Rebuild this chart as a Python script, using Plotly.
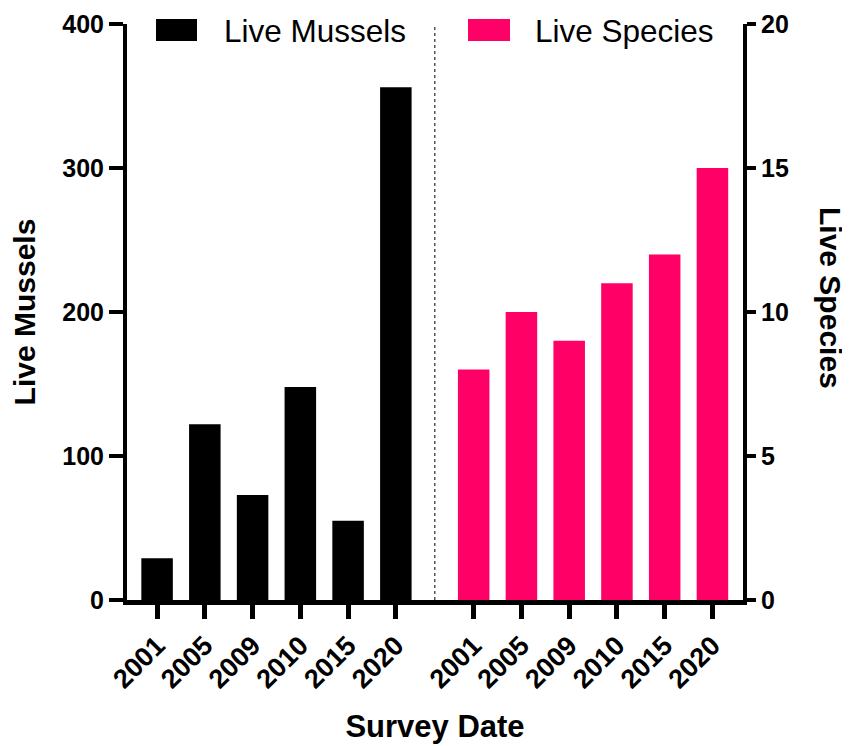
import numpy as np
import plotly.graph_objects as go

# ---- data ----
years = ["2001", "2005", "2009", "2010", "2015", "2020"]
live_mussels = [29, 122, 73, 148, 55, 356]
live_species = [8, 10, 9, 11, 12, 15]

mussel_ticks = [0, 100, 200, 300, 400]
species_ticks = [0, 5, 10, 15, 20]

# category positions (two groups separated by a gap)
group_gap = 1.63
x_mussels = np.arange(len(years))
x_species = np.arange(len(years)) + len(years) - 1 + group_gap
divider_x = (x_mussels[-1] + x_species[0]) / 2

BLACK = "#000000"
PINK = "#FF0066"
FONT = "Liberation Sans, Arial, sans-serif"

fig = go.Figure()
fig.add_trace(go.Bar(x=x_mussels, y=live_mussels, name="Live Mussels",
                     marker=dict(color=BLACK, line=dict(width=0)), width=0.66,
                     yaxis="y", showlegend=False))
fig.add_trace(go.Bar(x=x_species, y=live_species, name="Live Species",
                     marker=dict(color=PINK, line=dict(width=0)), width=0.66,
                     yaxis="y2", showlegend=False))

tickvals = list(x_mussels) + list(x_species)
ticktext = years + years

# page has an 8px body margin; figure sized to fit the 850x746 window
OFF = 8
W, H = 850 - OFF, 746 - OFF
# plot area in page pixels
PL, PR, PT, PB = 127, 743, 24, 600
L, R, T, B = PL - OFF, W - (PR - OFF), PT - OFF, H - (PB - OFF)

def px(xp):
    return (xp - PL) / (PR - PL)

def py(yp):
    return (PB - yp) / (PB - PT)

fig.update_layout(
    width=W, height=H,
    margin=dict(l=L, r=R, t=T, b=B, pad=0),
    paper_bgcolor="white", plot_bgcolor="white",
    barmode="overlay",
    font=dict(family=FONT, color="black"),
    xaxis=dict(
        range=[-0.63, x_species[-1] + 0.64],
        tickmode="array", tickvals=tickvals, ticktext=ticktext,
        tickangle=-45,
        tickfont=dict(size=27, weight="bold", family=FONT),
        ticks="outside", ticklen=14, tickwidth=5, tickcolor="black",
        showline=True, linewidth=5, linecolor="black",
        showgrid=False, zeroline=False, automargin=False,
        ticklabeloverflow="allow",
        title=dict(text="Survey Date", font=dict(size=31, weight="bold", family=FONT), standoff=24),
    ),
    yaxis=dict(
        range=[0, 400], tickmode="array", tickvals=mussel_ticks,
        tickfont=dict(size=25, weight="bold", family=FONT),
        ticks="outside", ticklen=14, tickwidth=4, tickcolor="black",
        showline=True, linewidth=4, linecolor="black",
        showgrid=False, zeroline=False, automargin=False,
        ticklabeloverflow="allow",
        title=dict(text="Live Mussels", font=dict(size=30, weight="bold", family=FONT), standoff=20),
    ),
    yaxis2=dict(
        range=[0, 20], tickmode="array", tickvals=species_ticks,
        overlaying="y", side="right",
        tickfont=dict(size=25, weight="bold", family=FONT),
        ticks="outside", ticklen=9, tickwidth=4, tickcolor="black",
        showline=True, linewidth=4, linecolor="black",
        showgrid=False, zeroline=False, automargin=False,
        ticklabeloverflow="allow",
    ),
)

# divider
fig.add_shape(type="line", xref="x", yref="paper", x0=divider_x, x1=divider_x, y0=0, y1=1,
              line=dict(color="#555555", width=1.5, dash="dot"), layer="below")

# legend (manual, wide swatches)
legend_items = [("Live Mussels", BLACK, 156, 197, 222), ("Live Species", PINK, 468, 510, 533)]
for label, color, x0, x1, xt in legend_items:
    fig.add_shape(type="rect", xref="paper", yref="paper",
                  x0=px(x0), x1=px(x1), y0=py(41), y1=py(19),
                  fillcolor=color, line=dict(width=0))
    fig.add_annotation(xref="paper", yref="paper", x=px(xt), y=py(31),
                       text=label, showarrow=False, xanchor="left", yanchor="middle",
                       font=dict(size=31.5, family=FONT, color="black"))

# right axis title (reads top-to-bottom)
fig.add_annotation(xref="paper", yref="paper", x=px(831), y=py(298),
                   text="Live Species", textangle=90, showarrow=False,
                   xanchor="center", yanchor="middle",
                   font=dict(size=30, weight="bold", family=FONT, color="black"))

fig.write_html("out.html")
